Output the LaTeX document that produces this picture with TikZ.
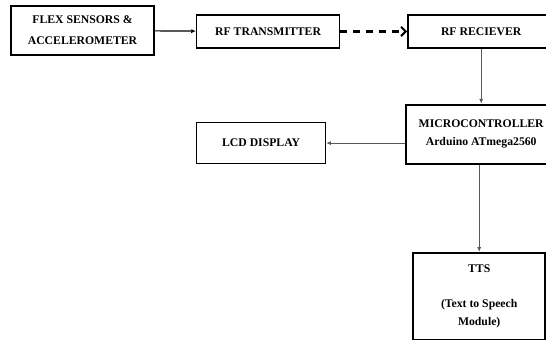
\documentclass[tikz,border=0pt]{standalone}
\usepackage{fontspec}
\setmainfont{Liberation Serif}
\usetikzlibrary{positioning, arrows.meta}
\tikzstyle{heavybox} = [rectangle, text centered, align=center, draw=black, line width=1.6pt, fill=white, inner sep=2pt, font=\fontsize{10}{15}\selectfont\bfseries]
\tikzstyle{lightbox} = [rectangle, text centered, align=center, draw=black, line width=1.1pt, fill=white, inner sep=2pt, font=\fontsize{10}{15}\selectfont\bfseries]
\tikzstyle{arrow} = [line width=1pt, -{Latex[length=4pt,width=3.5pt]}]
\tikzstyle{wire} = [draw=black!65, line width=0.9pt, -{Latex[length=4pt,width=3.5pt]}]
\tikzstyle{radio} = [line width=1.8pt, dash pattern=on 6pt off 5pt, -{Straight Barb[length=4pt,width=8pt]}]

\begin{document}
\begin{tikzpicture}
\useasboundingbox (0,0) rectangle (16.38,-10.29);
% blocks
\node (flex) [heavybox, minimum width=4.29cm, minimum height=1.47cm, font=\fontsize{10}{18}\selectfont\bfseries] at (2.475,-0.915) {FLEX SENSORS \&\\ACCELEROMETER};
\node (tx) [lightbox, minimum width=4.29cm, minimum height=0.99cm, right=1.23cm of flex, yshift=-0.03cm] {RF TRANSMITTER};
\node (rx) [lightbox, minimum width=4.4cm, minimum height=0.99cm, right=2.01cm of tx] {RF RECIEVER};
\node (mcu) [heavybox, minimum width=4.5cm, minimum height=1.77cm, below=1.65cm of rx] {MICROCONTROLLER\\Arduino ATmega2560};
\node (lcd) [lightbox, minimum width=3.87cm, minimum height=1.23cm, left=2.37cm of mcu, yshift=-0.27cm] {LCD DISPLAY};
\node (tts) [heavybox, minimum width=3.95cm, minimum height=2.6cm, below=2.62cm of mcu, xshift=-0.06cm] {TTS\\[15pt](Text to Speech\\Module)};

% links
\draw [arrow] (flex) -- (tx);
\draw [radio] (tx) -- (rx);
\draw [wire] (rx) -- (mcu);
\draw [wire] (mcu.west |- lcd.east) -- (lcd);
\draw [wire] (mcu.south -| tts.north) -- (tts);
\end{tikzpicture}
\end{document}
